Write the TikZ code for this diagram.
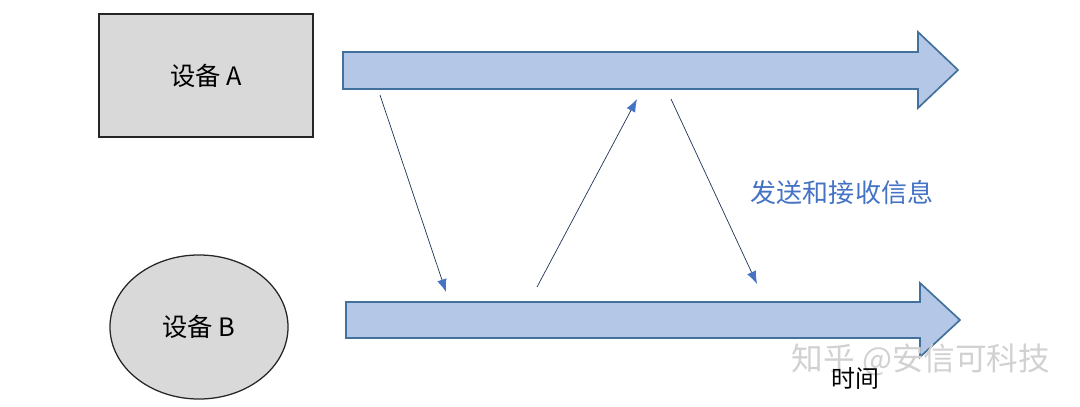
\documentclass[tikz,border=0pt]{standalone}
\usepackage{fontspec}
\setmainfont{Noto Sans CJK SC}
\usepackage{xcolor}
\usetikzlibrary{shapes.geometric, arrows.meta}

\definecolor{lineblue}{HTML}{4472C4}
\definecolor{barfill}{HTML}{B4C7E7}
\definecolor{bardraw}{HTML}{41719C}
\definecolor{devgray}{HTML}{D9D9D9}

\tikzset{
    devbox/.style={draw=black!85, fill=devgray, line width=1.3pt, font=\fontsize{18}{21}\selectfont},
    timeline/.style={draw=bardraw, fill=barfill, line width=1.2pt, line join=miter},
    msg/.style={draw=black!55!lineblue, line width=0.5pt, -{Latex[length=3.2mm, width=2.4mm, color=lineblue]}}
}

\begin{document}
\begin{tikzpicture}[x=0.025cm, y=-0.025cm]
    \useasboundingbox (0,0) rectangle (1080,407);

    % Devices
    \node[devbox, rectangle, minimum width=5.35cm, minimum height=3.075cm] (DevA) at (206,75.5) {设备 A};
    \node[devbox, ellipse, line width=0.9pt, minimum width=4.45cm, minimum height=3.6cm] (DevB) at (199,327) {设备 B};

    % Time lines
    \draw[timeline] (343,52) -- (918,52) -- (918,32) -- (958,70) -- (918,108) -- (918,89) -- (343,89) -- cycle;
    \draw[timeline] (346,302) -- (920,302) -- (920,283) -- (960,320) -- (920,357) -- (920,338) -- (346,338) -- cycle;

    % Message end points
    \coordinate (Send-1) at (380,95);
    \coordinate (Recv-1) at (446,292);
    \coordinate (Send-2) at (537,287);
    \coordinate (Recv-2) at (637,99);
    \coordinate (Send-3) at (671,99);
    \coordinate (Recv-3) at (757,284);

    % Messages
    \foreach \i in {1,...,3}
    {
        \draw[msg] (Send-\i) -- (Recv-\i);
    }

    % Labels
    \node[text=lineblue, font=\fontsize{18.5}{21}\selectfont] (MsgLabel) at (842,193) {发送和接收信息};
    \node[text=black!18, font=\fontsize{22.5}{26}\selectfont] (Mark) at (921,360) {知乎 @安信可科技};
    \node[font=\fontsize{17}{20}\selectfont] (TimeLabel) at (855,378) {时间};
\end{tikzpicture}
\end{document}
